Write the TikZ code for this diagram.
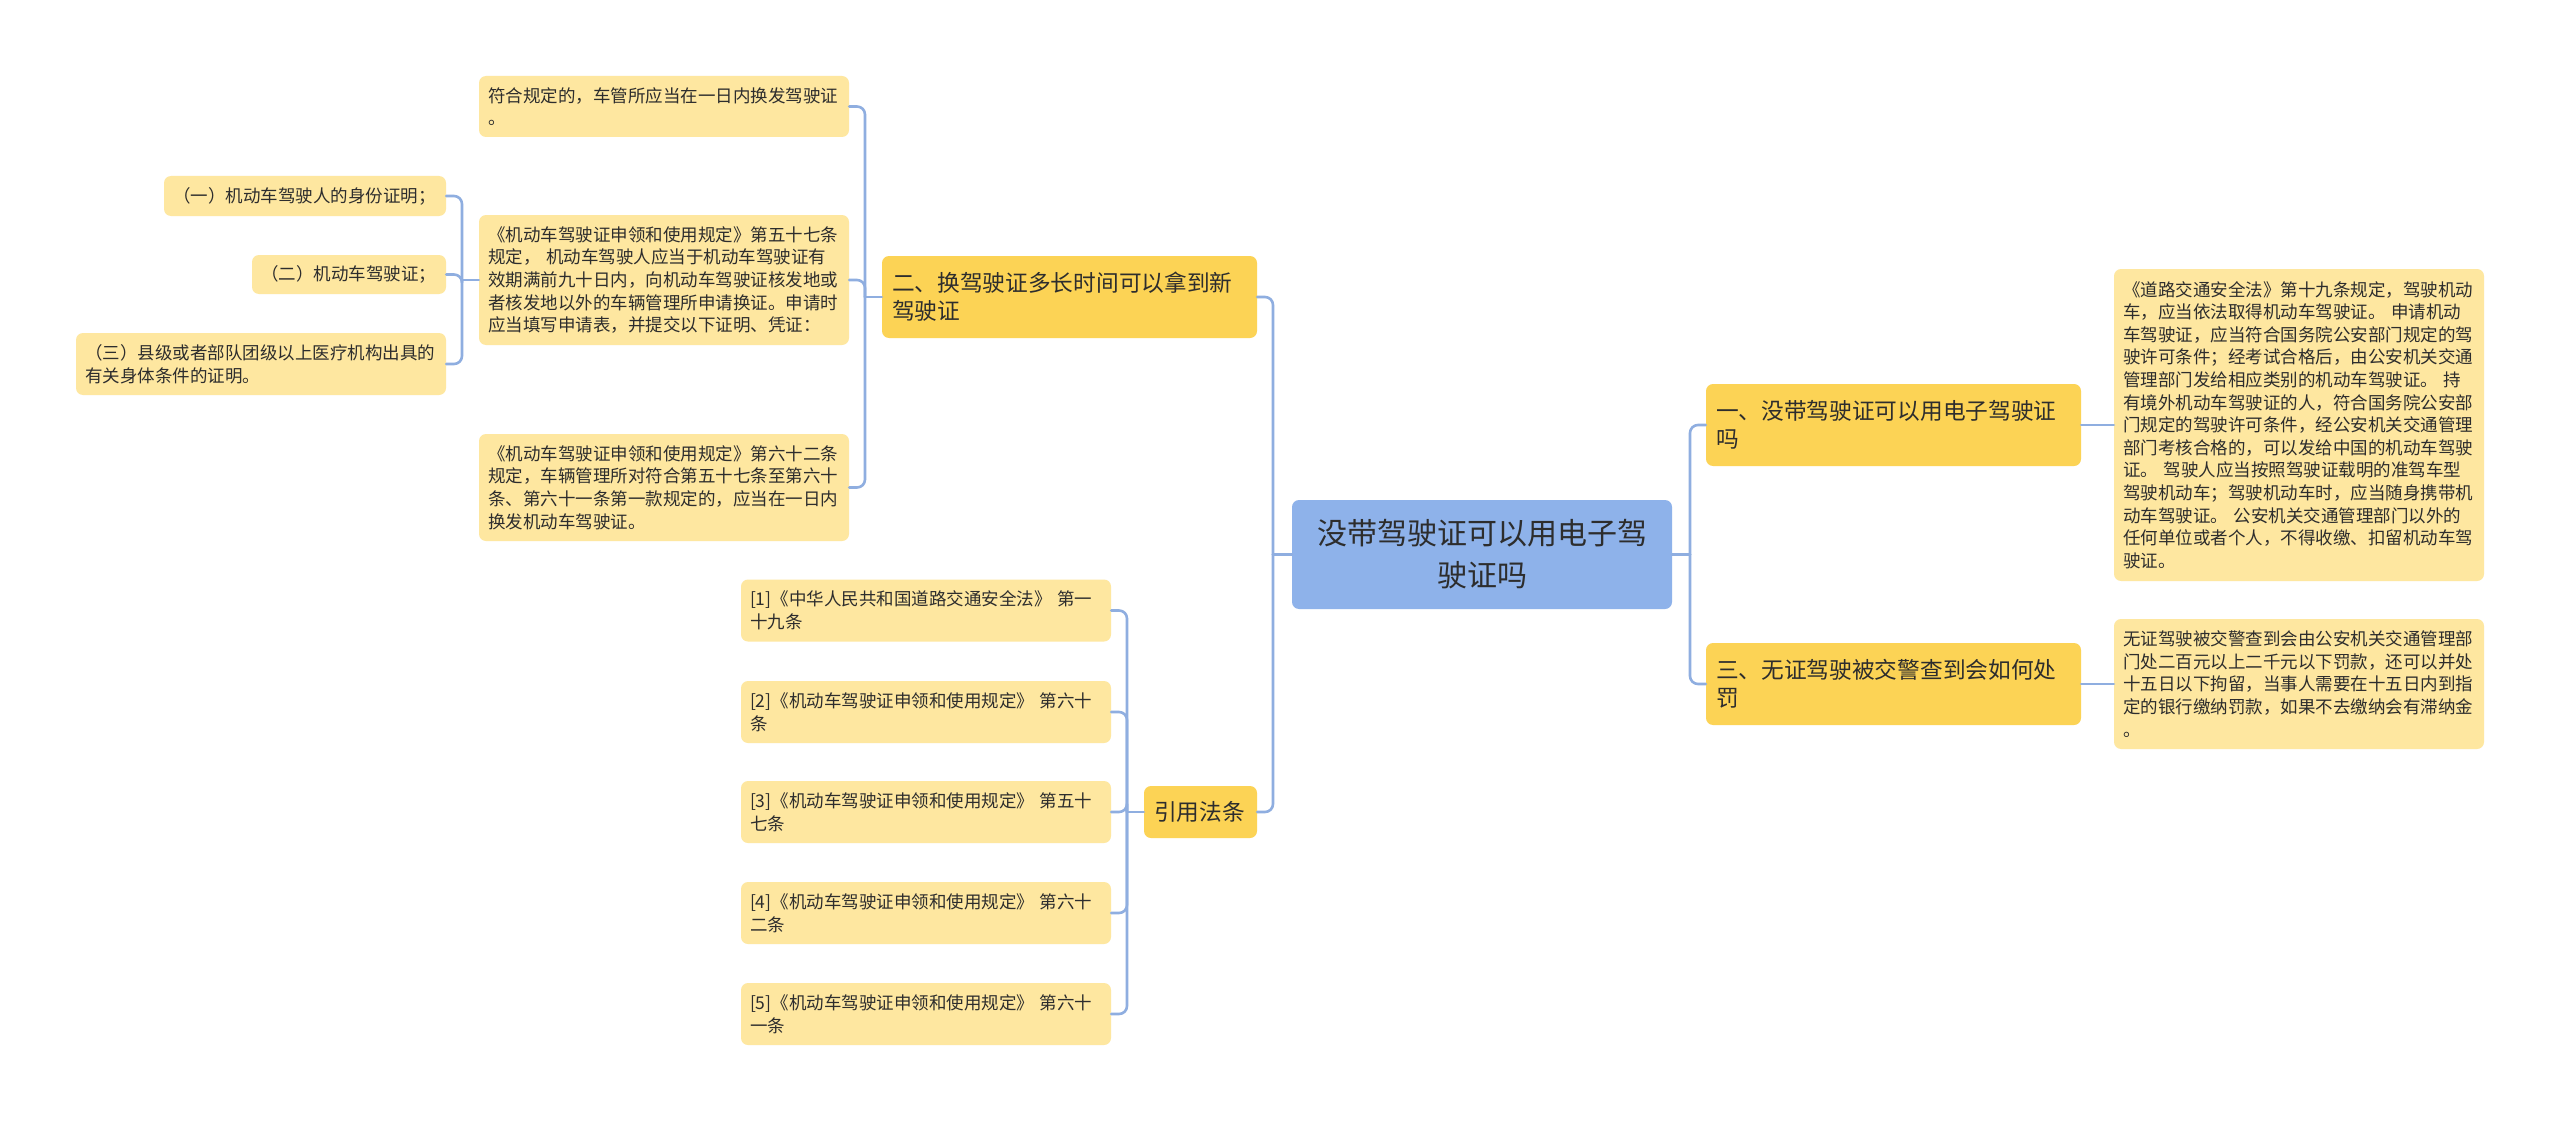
\documentclass[tikz,border=0pt]{standalone}
\usepackage{fontspec}
\setmainfont{Noto Sans CJK SC}
\definecolor{rootblue}{RGB}{142,178,234}
\definecolor{mainyellow}{RGB}{252,211,85}
\definecolor{leafyellow}{RGB}{254,231,160}
\definecolor{linkblue}{RGB}{143,174,224}
\definecolor{txtgray}{RGB}{45,45,45}

\begin{document}
\begin{tikzpicture}[x=1pt, y=-1pt, line join=round, line cap=round,
	box/.style={rounded corners=7pt, inner xsep=9pt, inner ysep=0pt, text=txtgray, align=left},
	rootbox/.style={box, fill=rootblue, font=\fontsize{30}{42}\selectfont, align=center},
	mainbox/.style={box, inner xsep=10pt, fill=mainyellow, font=\fontsize{22.7}{28}\selectfont},
	leafbox/.style={box, fill=leafyellow, font=\fontsize{17.5}{22.6}\selectfont},
	link/.style={draw=linkblue, line width=2.6pt, rounded corners=8pt}]
	\fill[white] (0,0) rectangle (2560,1121);
	\useasboundingbox (0,0) rectangle (2560,1121);
	% centre and branches
	\node[rootbox, text width=362pt, minimum height=109pt] (root) at (1482,554.5) {没带驾驶证可以用电子驾\\驶证吗};
	\node[mainbox, text width=355pt, minimum height=82pt] (q2) at (1069.5,297) {二、换驾驶证多长时间可以拿到新\\驾驶证};
	\node[mainbox, text width=93pt, minimum height=52pt] (law) at (1200.5,812) {引用法条};
	\node[mainbox, text width=355pt, minimum height=82pt] (q1) at (1893.5,425) {一、没带驾驶证可以用电子驾驶证\\吗};
	\node[mainbox, text width=355pt, minimum height=82pt] (q3) at (1893.5,684) {三、无证驾驶被交警查到会如何处\\罚};
	% left leaves
	\node[leafbox, text width=352pt, minimum height=61pt] (a1) at (664,106.5) {符合规定的，车管所应当在一日内换发驾驶证\\。};
	\node[leafbox, text width=352pt, minimum height=130pt] (a2) at (664,280) {《机动车驾驶证申领和使用规定》第五十七条\\规定， 机动车驾驶人应当于机动车驾驶证有\\效期满前九十日内，向机动车驾驶证核发地或\\者核发地以外的车辆管理所申请换证。申请时\\应当填写申请表，并提交以下证明、凭证：};
	\node[leafbox, text width=352pt, minimum height=107pt] (a3) at (664,487.5) {《机动车驾驶证申领和使用规定》第六十二条\\规定，车辆管理所对符合第五十七条至第六十\\条、第六十一条第一款规定的，应当在一日内\\换发机动车驾驶证。};
	\node[leafbox, text width=264pt, minimum height=40pt] (s1) at (305,196) {（一）机动车驾驶人的身份证明；};
	\node[leafbox, text width=176pt, minimum height=39pt] (s2) at (349,274.5) {（二）机动车驾驶证；};
	\node[leafbox, text width=352pt, minimum height=62pt] (s3) at (261,364) {（三）县级或者部队团级以上医疗机构出具的\\有关身体条件的证明。};
	\node[leafbox, text width=352pt, minimum height=62pt] (ref1) at (926,610.5) {[1]《中华人民共和国道路交通安全法》 第一\\十九条};
	\node[leafbox, text width=352pt, minimum height=62pt] (ref2) at (926,712) {[2]《机动车驾驶证申领和使用规定》 第六十\\条};
	\node[leafbox, text width=352pt, minimum height=62pt] (ref3) at (926,812) {[3]《机动车驾驶证申领和使用规定》 第五十\\七条};
	\node[leafbox, text width=352pt, minimum height=62pt] (ref4) at (926,913) {[4]《机动车驾驶证申领和使用规定》 第六十\\二条};
	\node[leafbox, text width=352pt, minimum height=62pt] (ref5) at (926,1014) {[5]《机动车驾驶证申领和使用规定》 第六十\\一条};
	% right leaves
	\node[leafbox, text width=352pt, minimum height=312pt] (r1) at (2299,425) {《道路交通安全法》第十九条规定，驾驶机动\\车，应当依法取得机动车驾驶证。 申请机动\\车驾驶证，应当符合国务院公安部门规定的驾\\驶许可条件；经考试合格后，由公安机关交通\\管理部门发给相应类别的机动车驾驶证。 持\\有境外机动车驾驶证的人，符合国务院公安部\\门规定的驾驶许可条件，经公安机关交通管理\\部门考核合格的，可以发给中国的机动车驾驶\\证。 驾驶人应当按照驾驶证载明的准驾车型\\驾驶机动车；驾驶机动车时，应当随身携带机\\动车驾驶证。 公安机关交通管理部门以外的\\任何单位或者个人，不得收缴、扣留机动车驾\\驶证。};
	\node[leafbox, text width=352pt, minimum height=130pt] (r2) at (2299,684) {无证驾驶被交警查到会由公安机关交通管理部\\门处二百元以上二千元以下罚款，还可以并处\\十五日以下拘留，当事人需要在十五日内到指\\定的银行缴纳罚款，如果不去缴纳会有滞纳金\\。};
	% trunks
	\coordinate (tl) at (1273,0);
	\coordinate (tr) at (1690,0);
	\coordinate (tq2) at (865,0);
	\coordinate (ta2) at (462,0);
	\coordinate (tlaw) at (1127,0);
	% connectors
	\draw[link] (root.west) -- (tl |- root.west);
	\foreach \c in {q2,law}
	{\draw[link] (tl |- root.west) -- (tl |- \c.east) -- (\c.east);}
	\draw[link] (root.east) -- (tr |- root.east);
	\foreach \c in {q1,q3}
	{\draw[link] (tr |- root.east) -- (tr |- \c.west) -- (\c.west);}
	\draw[link] (q2.west) -- (tq2 |- q2.west);
	\foreach \c in {a1,a2,a3}
	{\draw[link] (tq2 |- q2.west) -- (tq2 |- \c.east) -- (\c.east);}
	\draw[link] (a2.west) -- (ta2 |- a2.west);
	\foreach \c in {s1,s2,s3}
	{\draw[link] (ta2 |- a2.west) -- (ta2 |- \c.east) -- (\c.east);}
	\draw[link] (law.west) -- (tlaw |- law.west);
	\foreach \c in {ref1,ref2,ref3,ref4,ref5}
	{\draw[link] (tlaw |- law.west) -- (tlaw |- \c.east) -- (\c.east);}
	\draw[link] (q1.east) -- (r1.west);
	\draw[link] (q3.east) -- (r2.west);
\end{tikzpicture}
\end{document}
